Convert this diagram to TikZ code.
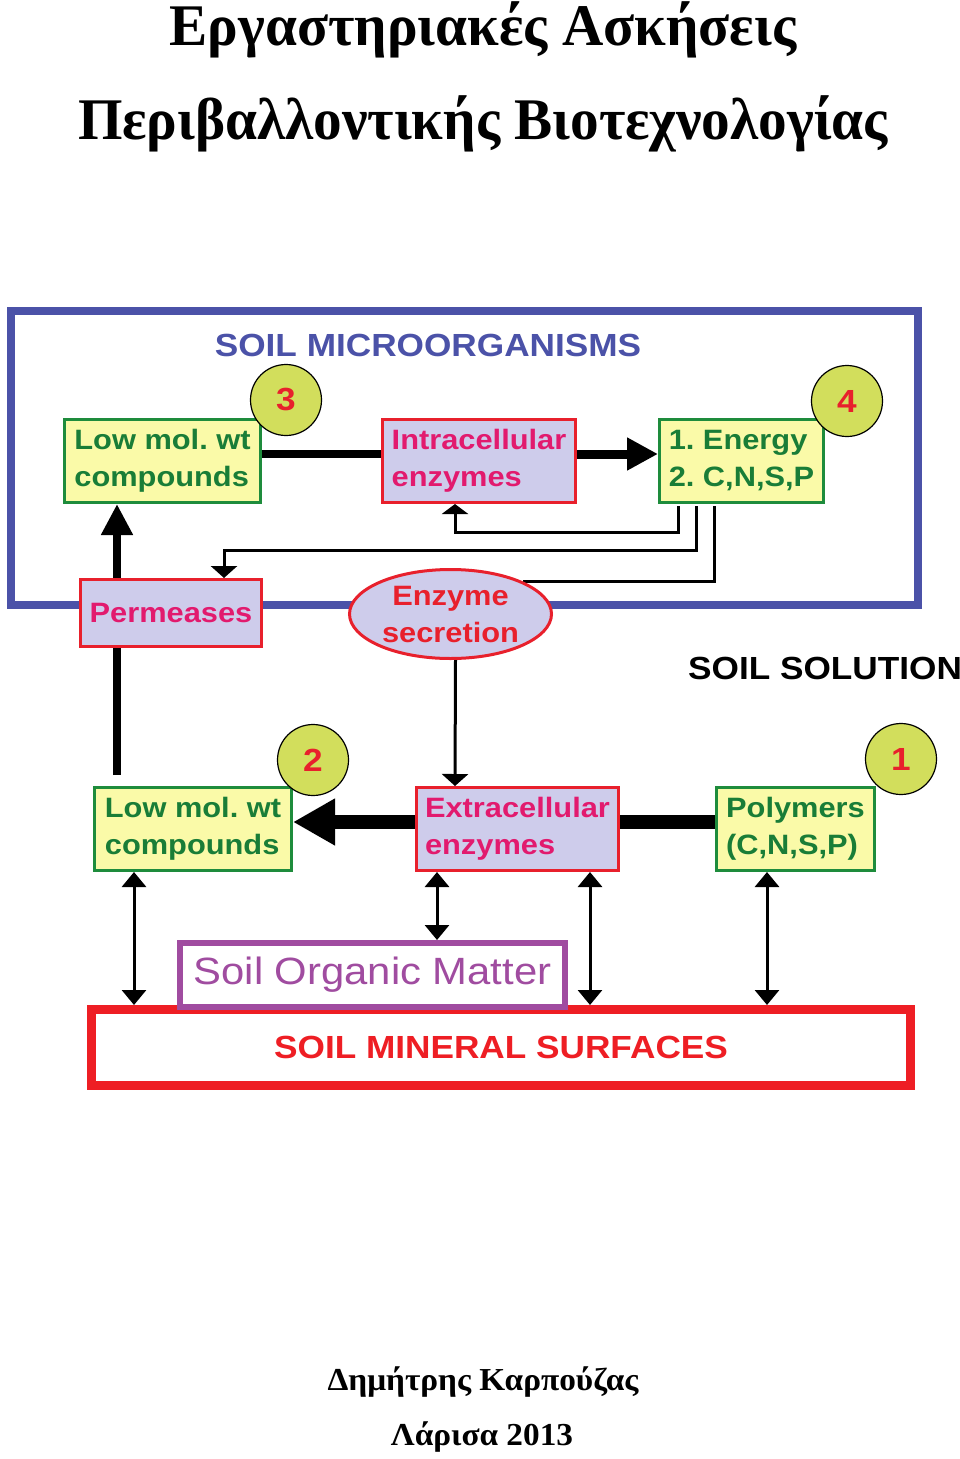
\documentclass[tikz,border=0pt]{standalone}
\usepackage{fontspec}
\setmainfont{Liberation Serif}
\newfontfamily\diagfont[FakeStretch=1.1]{Liberation Sans}
\newfontfamily\titlefont[FakeStretch=0.97]{Liberation Serif}
\newfontfamily\authorfont[FakeStretch=1.04]{Liberation Serif}
\usetikzlibrary{arrows.meta, shapes.geometric, backgrounds}
\frenchspacing

\definecolor{frameblue}{RGB}{75,82,168}
\definecolor{boxyellow}{RGB}{250,250,168}
\definecolor{boxgreen}{RGB}{30,140,60}
\definecolor{textgreen}{RGB}{25,125,55}
\definecolor{boxlilac}{RGB}{206,204,235}
\definecolor{boxred}{RGB}{232,32,44}
\definecolor{textpink}{RGB}{226,26,110}
\definecolor{badgelime}{RGB}{210,222,92}
\definecolor{sompurple}{RGB}{160,76,160}
\definecolor{mineralred}{RGB}{238,30,36}

\begin{document}
\begin{tikzpicture}[x=1pt, y=-1pt,
    compound/.style={draw=boxgreen, line width=3pt, fill=boxyellow, text=textgreen, font=\diagfont\bfseries\fontsize{28}{37}\selectfont, align=left, minimum width=#1, minimum height=83pt, inner sep=0pt},
    enzyme/.style={draw=boxred, line width=3pt, fill=boxlilac, text=textpink, font=\diagfont\bfseries\fontsize{28}{37}\selectfont, align=left, minimum width=#1, minimum height=83pt, inner sep=0pt},
    badge/.style={draw, circle, line width=1.2pt, fill=badgelime, text=boxred, font=\diagfont\bfseries\fontsize{32}{32}\selectfont, minimum size=71pt, inner sep=0pt},
    heading/.style={font=\diagfont\bfseries\fontsize{32}{32}\selectfont, inner sep=0pt},
    fat/.style={line width=#1},
    thin-link/.style={line width=3pt},
    both-ways/.style={line width=3pt, {Triangle[length=15pt,width=24pt]}-{Triangle[length=15pt,width=24pt]}},
  ]
  \useasboundingbox (0,0) rectangle (960,1459);

  \node[font=\titlefont\bfseries\fontsize{59}{59}\selectfont, anchor=base] (title-top) at (483,45) {Εργαστηριακές Ασκήσεις};
  \node[font=\titlefont\bfseries\fontsize{59}{59}\selectfont, anchor=base] (title-bottom) at (483,139) {Περιβαλλοντικής Βιοτεχνολογίας};

  \node[heading, text=frameblue, anchor=base] (microorganisms) at (428,356) {SOIL MICROORGANISMS};
  \node[heading, anchor=base west] (solution) at (688,679) {SOIL SOLUTION};

  \node[compound=196pt] (low-mol-top) at (162.5,461) {Low mol. wt\\compounds};
  \node[enzyme=193pt] (intracellular) at (479,461) {Intracellular\\enzymes};
  \node[compound=164pt] (energy) at (741.5,461) {1. Energy\\2. C,N,S,P};
  \node[badge] (badge-3) at (286,400) {3};
  \node[badge] (badge-4) at (847,401) {4};

  \node[enzyme=181pt, minimum height=67pt] (permeases) at (171,613) {Permeases};
  \node[draw=boxred, line width=3pt, fill=boxlilac, text=boxred, ellipse, minimum width=202pt, minimum height=89pt, inner sep=0pt, align=center, font=\diagfont\bfseries\fontsize{28}{37}\selectfont] (secretion) at (450.5,614) {Enzyme\\secretion};

  \node[compound=197pt] (low-mol-bottom) at (193,829) {Low mol. wt\\compounds};
  \node[enzyme=202pt] (extracellular) at (517.5,829) {Extracellular\\enzymes};
  \node[compound=158pt] (polymers) at (795.5,829) {Polymers\\(C,N,S,P)};
  \node[badge] (badge-2) at (313,760) {2};
  \node[badge] (badge-1) at (901,759) {1};

  \node[heading, draw=mineralred, line width=9pt, minimum width=819pt, minimum height=76pt, text=mineralred] (mineral) at (501,1047.5) {SOIL MINERAL SURFACES};
  \node[draw=sompurple, line width=6pt, fill=white, text=sompurple, minimum width=385pt, minimum height=64pt, inner sep=0pt, font=\diagfont\fontsize{38}{38}\selectfont] (organic) at (372.5,975) {Soil Organic Matter};

  \coordinate (perm-foot) at (117,775);

  \begin{pgfonlayer}{background}
    \draw[frameblue, line width=8pt] (11,311) rectangle (918,605);
    \draw[fat=8pt, -{Triangle[length=31pt,width=30pt]}] (perm-foot) -- (perm-foot |- low-mol-top.south);
    \draw[thin-link, shorten <=2pt] ([xshift=-27.5pt]energy.south) |- (secretion.north east);
  \end{pgfonlayer}

  \draw[fat=8pt] ([yshift=7pt]low-mol-top.east) -- ([yshift=7pt]intracellular.west);
  \draw[fat=9pt, -{Triangle[length=31pt,width=31pt]}] ([yshift=7pt]intracellular.east) -- ([yshift=7pt]energy.west);
  \draw[thin-link, shorten <=2pt, -{Triangle[length=10pt,width=26pt]}] ([xshift=-63.5pt]energy.south) -- ++(0,28) -| ([xshift=-24pt]intracellular.south);
  \draw[thin-link, shorten <=2pt, -{Triangle[length=12pt,width=26pt]}] ([xshift=-45.5pt]energy.south) -- ++(0,46) -| ([xshift=53pt]permeases.north);
  \draw[thin-link, -{Triangle[length=12pt,width=26pt]}] ([xshift=5pt]secretion.south) -- ([xshift=-62.5pt]extracellular.north);

  \draw[fat=14pt] ([yshift=7pt]polymers.west) -- ([yshift=7pt]extracellular.east);
  \draw[fat=14pt, -{Triangle[length=42pt,width=44pt]}] ([yshift=7pt]extracellular.west) -- ([yshift=7pt]low-mol-bottom.east);

  \draw[both-ways] ([xshift=-59pt]low-mol-bottom.south) -- ([xshift=-367pt]mineral.north);
  \draw[both-ways] ([xshift=-80.5pt]extracellular.south) -- ([xshift=64.5pt]organic.north);
  \draw[both-ways] ([xshift=72.5pt]extracellular.south) -- ([xshift=89pt]mineral.north);
  \draw[both-ways] ([xshift=-28.5pt]polymers.south) -- ([xshift=266pt]mineral.north);

  \node[font=\authorfont\bfseries\fontsize{32}{32}\selectfont, anchor=base] (author) at (483,1390) {Δημήτρης Καρπούζας};
  \node[font=\authorfont\bfseries\fontsize{32}{32}\selectfont, anchor=base] (place-year) at (482,1445) {Λάρισα 2013};
\end{tikzpicture}
\end{document}
